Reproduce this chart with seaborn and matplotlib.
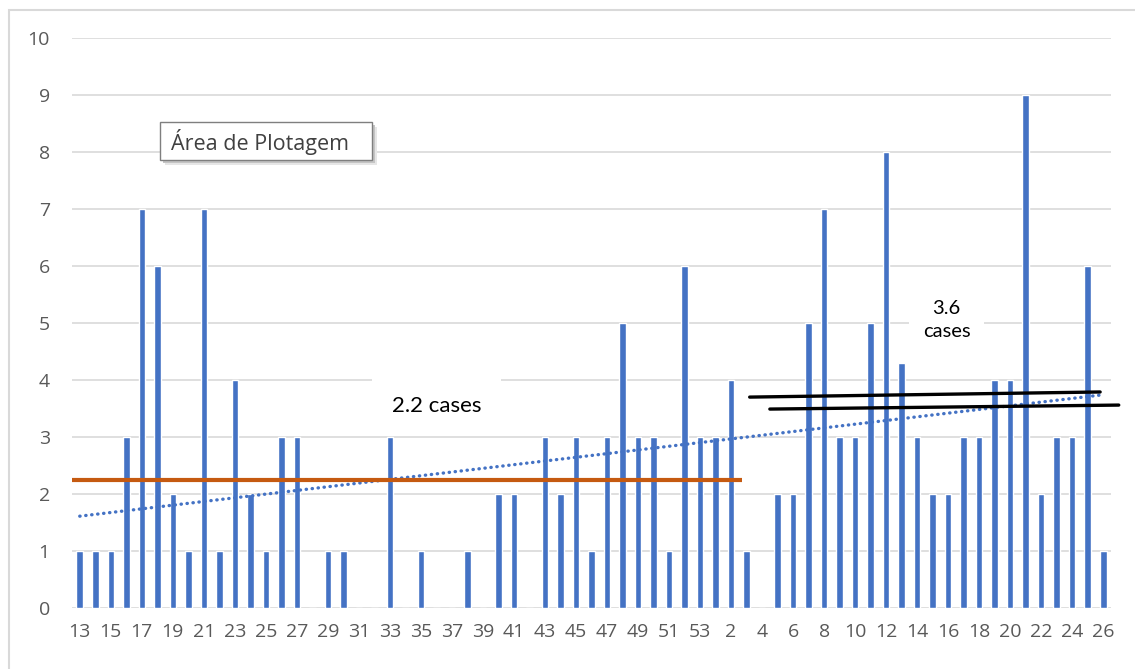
import numpy as np
import pandas as pd
import matplotlib
matplotlib.use("Agg")
import matplotlib.pyplot as plt
import seaborn as sns
from matplotlib.patches import Rectangle

# semanas epidemiologicas: 13..53 de 2020, depois 1..26 de 2021
semanas = list(range(13, 54)) + list(range(1, 27))
casos = [1, 1, 1, 3, 7, 6, 2, 1, 7, 1, 4, 2, 1, 3, 3, 0, 1, 1, 0, 0,
         3, 0, 1, 0, 0, 1, 0, 2, 2, 0, 3, 2, 3, 1, 3, 5, 3, 3, 1, 6, 3,
         3, 4, 1, 0, 2, 2, 5, 7, 3, 3, 5, 8, 4.3, 3, 2, 2, 3, 3, 4, 4,
         9, 2, 3, 3, 6, 1]

# medias anotadas a mao no grafico original
media_2020 = 2.25          # linha laranja, ate a semana 2 de 2021
media_2021 = [(3.70, 3.79), (3.49, 3.56)]   # duas linhas pretas (inicio, fim)
rotulo_2020 = "2.2 cases"
rotulo_2021 = "3.6\ncases"

df = pd.DataFrame({"pos": range(len(casos)), "casos": casos})

sns.set_style("white")
plt.rcParams["font.family"] = ["Open Sans", "DejaVu Sans"]

W, H = 1135, 669
fig = plt.figure(figsize=(W / 100, H / 100), dpi=100)
ax = fig.add_axes([72 / W, 1 - 608 / H, (1111 - 72) / W, 570 / H])

sns.barplot(data=df, x="pos", y="casos", color="#4472C4", saturation=1,
            width=0.42, ax=ax, zorder=2)

# linha de tendencia linear (como no Excel)
coef = np.polyfit(df["pos"], df["casos"], 1)
ax.plot(df["pos"], np.polyval(coef, df["pos"]), color="#4472C4", lw=2.4,
        linestyle=(0, (0.1, 1.7)), dash_capstyle="round", zorder=3)

# media 2020 (laranja)
fim_2020 = semanas.index(2, 41)
ax.plot([-0.55, fim_2020 + 0.7], [media_2020, media_2020], color="#C55A11",
        lw=3, zorder=4, solid_capstyle="butt")

# medias 2021 (pretas, desenhadas a mao)
ax.plot([43.2, 65.8], list(media_2021[0]), color="black", lw=2.4, zorder=5,
        clip_on=False)
ax.plot([44.5, 67.0], list(media_2021[1]), color="black", lw=2.4, zorder=5,
        clip_on=False)

ax.text(23.0, 3.55, rotulo_2020, ha="center", va="center", fontsize=16,
        family="Lato", color="black", zorder=1.5,
        bbox=dict(facecolor="white", edgecolor="none", pad=14))
ax.text(55.9, 5.05, rotulo_2021, ha="center", va="center", fontsize=14.5,
        family="Lato", color="black", linespacing=1.45, zorder=1.5,
        bbox=dict(facecolor="white", edgecolor="none", pad=10))

ax.set_xlim(-0.5, len(casos) - 0.5)
ax.set_ylim(0, 10)
ax.set_yticks(range(0, 11))
ax.set_xticks(range(0, len(casos), 2))
ax.set_xticklabels([str(s) for s in semanas[::2]])
ax.yaxis.grid(True, color="#d9d9d9", lw=1.2, zorder=0)
ax.set_axisbelow(True)
ax.tick_params(axis="both", length=0, labelsize=14, colors="#595959")
ax.tick_params(axis="y", pad=16)
ax.tick_params(axis="x", pad=11)
ax.set_xlabel("")
ax.set_ylabel("")
sns.despine(ax=ax, left=True, bottom=True)

# moldura da area do grafico
fig.patches.append(Rectangle((9 / W, -0.01), 1.02, 1 - 10 / H + 0.01,
                             transform=fig.transFigure, facecolor="none",
                             edgecolor="#d9d9d9", lw=1.5))

# dica "Área de Plotagem" com sombra
bx, by, bw, bh = 160, 122, 212, 38
for off, cor in [(5, "#e6e6e6"), (3, "#c4c4c4")]:
    fig.patches.append(Rectangle(((bx + off) / W, 1 - (by + bh + off) / H),
                                 bw / W, bh / H, transform=fig.transFigure,
                                 facecolor=cor, edgecolor="none", zorder=9))
fig.patches.append(Rectangle((bx / W, 1 - (by + bh) / H), bw / W, bh / H,
                             transform=fig.transFigure, facecolor="white",
                             edgecolor="#7f7f7f", lw=1, zorder=10))
fig.text((bx + 11) / W, 1 - (by + bh / 2 + 1) / H, "Área de Plotagem",
         ha="left", va="center", fontsize=15.5, color="#404040", zorder=11)

fig.savefig("out.png", dpi=100)
